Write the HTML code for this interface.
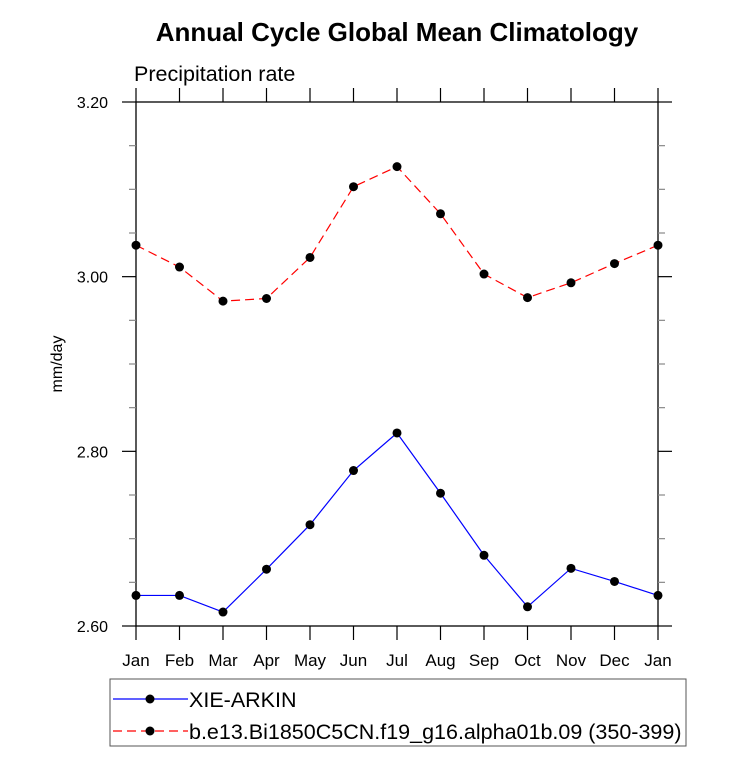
<!DOCTYPE html>
<html><head><meta charset="utf-8"><style>
body{margin:0;background:#fff;}
svg text{font-family:"Liberation Sans",sans-serif;}
</style></head><body>
<svg id="chart" width="733" height="755" xmlns="http://www.w3.org/2000/svg">
<text x="397" y="41" font-size="26" font-weight="bold" text-anchor="middle">Annual Cycle Global Mean Climatology</text>
<text x="134" y="81" font-size="21.5">Precipitation rate</text>
<text transform="translate(62,364) rotate(-90)" font-size="16" text-anchor="middle">mm/day</text>
<rect x="136" y="102" width="522" height="524" fill="none" stroke="#000" stroke-width="1.3"/>
<g id="axes"></g>
<g id="series"></g>
<g>
<rect x="110" y="679" width="576" height="67" fill="#fff" stroke="#555" stroke-width="1"/>
<g>
<line x1="113" y1="699" x2="188" y2="699" stroke="#00f" stroke-width="1.2"/>
<circle cx="150" cy="699" r="4.5" fill="#000"/>
<text x="189" y="707" font-size="21.5">XIE-ARKIN</text></g>
<g>
<line x1="113" y1="731" x2="188" y2="731" stroke="#f00" stroke-width="1.2" stroke-dasharray="9,5"/>
<circle cx="150" cy="731" r="4.5" fill="#000"/>
<text x="189" y="739" font-size="21.5">b.e13.Bi1850C5CN.f19_g16.alpha01b.09 (350-399)</text></g>
</g>
</svg>
<script>
const months = ["Jan","Feb","Mar","Apr","May","Jun","Jul","Aug","Sep","Oct","Nov","Dec","Jan"];
const obsValues = [2.635,2.635,2.616,2.665,2.716,2.778,2.821,2.752,2.681,2.622,2.666,2.651,2.635];
const modelValues = [3.036,3.011,2.972,2.975,3.022,3.103,3.126,3.072,3.003,2.976,2.993,3.015,3.036];
const yTickLabels = ["2.60","2.80","3.00","3.20"];
const yMin = 2.6, yMax = 3.2;
const X0=136,X1=658,Y0=626,Y1=102;
const NS="http://www.w3.org/2000/svg";
function xs(i){return X0+(X1-X0)*i/(months.length-1);}
function ys(v){return Y0-(v-yMin)/(yMax-yMin)*(Y0-Y1);}
function mk(t,a,p){const e=document.createElementNS(NS,t);for(const k in a)e.setAttribute(k,a[k]);p.appendChild(e);return e;}
const ax=document.getElementById('axes');
months.forEach((m,i)=>{
  const x=xs(i);
  const t1=mk('line',{x1:x,y1:Y0,x2:x,y2:Y0+14,stroke:'#000','stroke-width':1.2},ax);
  
  
  const t2=mk('line',{x1:x,y1:Y1,x2:x,y2:Y1-14,stroke:'#000','stroke-width':1.2},ax);
  
  
  const tx=mk('text',{x:x,y:666,'font-size':17,'text-anchor':'middle'},ax);
  tx.textContent=m;
  
  
});
for(let v=yMin;v<=yMax+1e-9;v+=0.05){
  const major=Math.abs(Math.round(v*5)-v*5)<1e-6;
  const y=ys(v),len=major?14:7,col=major?'#000':'#888';
  const a=mk('line',{x1:X0,y1:y,x2:X0-len,y2:y,stroke:col,'stroke-width':1.2},ax);
  
  
  const b=mk('line',{x1:X1,y1:y,x2:X1+len,y2:y,stroke:col,'stroke-width':1.2},ax);
  
  
}
yTickLabels.forEach(l=>{
  const t=mk('text',{x:X0-28,y:ys(parseFloat(l))+6,'font-size':16,'text-anchor':'end'},ax);
  t.textContent=l;
  
  
});
const sg=document.getElementById('series');
function draw(vals,color,dash,name){
  const pts=vals.map((v,i)=>xs(i)+','+ys(v)).join(' ');
  const pl=mk('polyline',{points:pts,fill:'none',stroke:color,'stroke-width':1.2},sg);
  if(dash)pl.setAttribute('stroke-dasharray',dash);
  
  
  vals.forEach((v,i)=>{
    const c=mk('circle',{cx:xs(i),cy:ys(v),r:4.5,fill:'#000'},sg);
    
    
  });
}
draw(obsValues,'#00f',null,'xie-arkin');
draw(modelValues,'#f00','9,5','model');
</script>
</body></html>
